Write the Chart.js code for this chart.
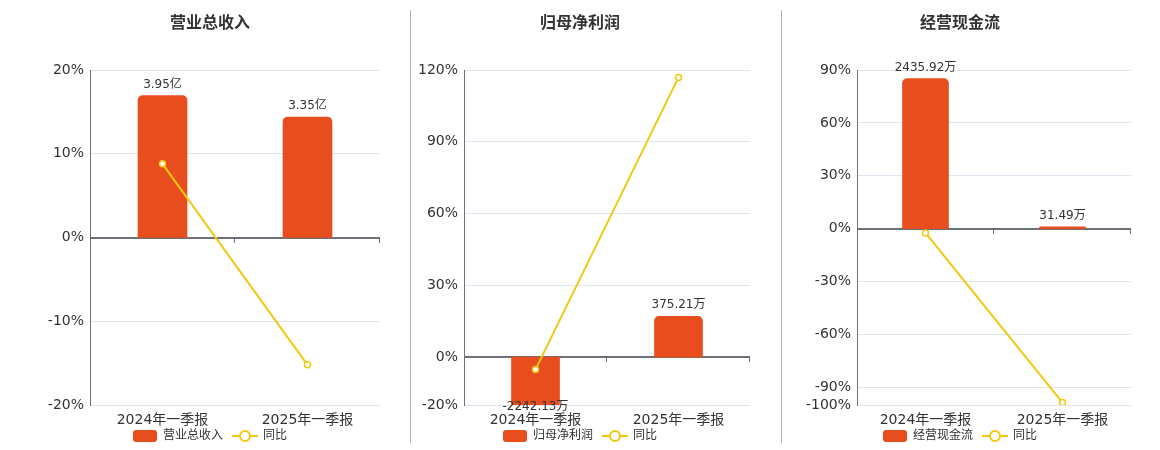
<!DOCTYPE html>
<html>
<head>
<meta charset="utf-8">
<title>季报对比</title>
<script src="https://cdn.jsdelivr.net/npm/chart.js@4.4.0/dist/chart.umd.min.js"></script>
<style>
  body { margin: 0; background: #fff; font-family: "DejaVu Sans", "Noto Sans CJK SC", sans-serif; }
  #wrap { position: relative; width: 1160px; height: 450px; overflow: hidden; }
  .panel { position: absolute; top: 0; height: 450px; }
  .title { position: absolute; top: 13px; width: 200px; height: 20px; line-height: 20px;
           font-size: 16px; font-weight: bold; color: #333; text-align: center; }
  .sep { position: absolute; top: 10px; width: 1px; height: 433px; background: #b4b4b4; }
</style>
</head>
<body>
<div id="wrap">
  <div class="panel" style="left:0;width:420px"><canvas id="c1"></canvas></div>
  <div class="panel" style="left:410px;width:340px"><canvas id="c2"></canvas></div>
  <div class="panel" style="left:760px;width:400px"><canvas id="c3"></canvas></div>
  <div class="title" style="left:110px">营业总收入</div>
  <div class="title" style="left:480px">归母净利润</div>
  <div class="title" style="left:860px">经营现金流</div>
  <div class="sep" style="left:410px"></div>
  <div class="sep" style="left:781px"></div>
</div>
<script>
// periods shown on every panel
const periods = ['2024年一季报', '2025年一季报'];

// 营业总收入 (亿) and its yoy %
const revenueValues = [3.95, 3.35];
const revenueYoy = [8.8, -15.2];
const revenueTicks = [-20, -10, 0, 10, 20];

// 归母净利润 (万) and its yoy %
const profitValues = [-2242.13, 375.21];
const profitYoy = [-5.2, 116.9];
const profitTicks = [-20, 0, 30, 60, 90, 120];

// 经营现金流 (万) and its yoy %
const cashValues = [2435.92, 31.49];
const cashYoy = [-2.4, -98.6];
const cashTicks = [-100, -90, -60, -30, 0, 30, 60, 90];

const BAR = '#E84D1E';
const LINE = '#F2C811';
const AXIS = '#6E7079';
const GRID = '#E0E6F1';
const FONT = '"DejaVu Sans", "Noto Sans CJK SC", sans-serif';

Chart.defaults.font.family = FONT;
Chart.defaults.color = '#333';

// legend icons
function barIcon() {
  const c = document.createElement('canvas');
  c.width = 24; c.height = 12;
  const g = c.getContext('2d');
  g.fillStyle = BAR;
  g.beginPath(); g.roundRect(0, 0, 24, 12, 3); g.fill();
  return c;
}
function lineIcon() {
  const c = document.createElement('canvas');
  c.width = 26; c.height = 14;
  const g = c.getContext('2d');
  g.strokeStyle = LINE; g.lineWidth = 2;
  g.beginPath(); g.moveTo(0, 7); g.lineTo(26, 7); g.stroke();
  g.fillStyle = '#fff';
  g.beginPath(); g.arc(13, 7, 5, 0, Math.PI * 2); g.fill(); g.stroke();
  return c;
}

// little ticks hanging from the zero line at category boundaries
const zeroTicks = {
  id: 'zeroTicks',
  afterDatasetsDraw(chart) {
    const xs = chart.scales.x, ys = chart.scales.y;
    const y0 = Math.round(ys.getPixelForValue(0));
    const n = chart.data.labels.length;
    const ctx = chart.ctx;
    ctx.save();
    ctx.strokeStyle = AXIS; ctx.lineWidth = 1;
    for (let i = 1; i <= n; i++) {
      const px = Math.round(xs.left + i * xs.width / n) - 0.5;
      ctx.beginPath(); ctx.moveTo(px, y0); ctx.lineTo(px, y0 + 5); ctx.stroke();
    }
    ctx.restore();
  }
};

// let the x labels and the legend sit tight together like the original
const tightBottom = {
  id: 'tightBottom',
  afterLayout(chart) {
    const xs = chart.scales.x;
    xs.bottom = xs.top + 26;
    chart.legend.top += 2;
    chart.legend.bottom += 2;
  }
};

function makePanel(id, name, values, unit, yoy, ticks, opt) {
  const valueLabels = {
    id: 'valueLabels',
    afterDatasetsDraw(chart) {
      const meta = chart.getDatasetMeta(0);
      const area = chart.chartArea;
      const ctx = chart.ctx;
      ctx.save();
      ctx.font = '12px ' + FONT;
      ctx.fillStyle = '#333';
      ctx.textAlign = 'center';
      ctx.textBaseline = 'middle';
      meta.data.forEach((bar, i) => {
        const v = values[i];
        let y;
        if (v >= 0) y = Math.max(bar.y, area.top) - 11;
        else y = Math.min(bar.y, area.bottom) + 2;
        ctx.fillText(v.toFixed(2) + unit, bar.x, y);
      });
      ctx.restore();
    }
  };

  const icons = [barIcon(), lineIcon()];

  new Chart(document.getElementById(id), {
    data: {
      labels: periods,
      datasets: [
        {
          type: 'bar', label: name, data: values, yAxisID: 'y1', order: 1,
          backgroundColor: BAR, borderRadius: 5, barThickness: opt.barThickness
        },
        {
          type: 'line', label: '同比', data: yoy, yAxisID: 'y', order: 0,
          borderColor: LINE, borderWidth: 2, tension: 0,
          pointRadius: 3, pointBorderWidth: 1.5,
          pointBackgroundColor: '#fff', pointBorderColor: LINE
        }
      ]
    },
    options: {
      responsive: true,
      maintainAspectRatio: false,
      animation: false,
      layout: { autoPadding: false, padding: { top: 70, left: 0, right: 0, bottom: 0 } },
      plugins: {
        tooltip: { enabled: false },
        legend: {
          position: 'bottom',
          labels: {
            usePointStyle: true, pointStyleWidth: 24, boxHeight: 12,
            padding: 10, color: '#333', font: { size: 12 },
            generateLabels(chart) {
              const items = Chart.defaults.plugins.legend.labels.generateLabels(chart);
              items.sort((a, b) => a.datasetIndex - b.datasetIndex);
              items.forEach(it => { it.pointStyle = icons[it.datasetIndex]; });
              return items;
            }
          }
        }
      },
      scales: {
        x: {
          grid: { display: false, drawTicks: false },
          border: { display: false },
          ticks: { font: { size: 14 }, color: '#333', padding: 7 },
          afterFit(s) { s.height = 13; }
        },
        y: {
          position: 'left',
          min: ticks[0], max: ticks[ticks.length - 1],
          afterBuildTicks(s) { s.ticks = ticks.map(v => ({ value: v })); },
          ticks: {
            autoSkip: false, padding: 6, font: { size: 14 }, color: '#333',
            callback: v => v + '%'
          },
          grid: {
            drawTicks: false,
            color: c => c.tick.value === 0 ? AXIS : GRID,
            lineWidth: c => c.tick.value === 0 ? 2 : 1
          },
          border: { display: true, color: AXIS, width: 1 },
          afterFit(s) { s.width = opt.yWidth; }
        },
        y1: {
          position: 'right',
          display: opt.y1Width > 0,
          min: opt.barMin, max: opt.barMax,
          ticks: { display: false },
          grid: { display: false, drawTicks: false },
          border: { display: false },
          afterFit(s) { s.width = opt.y1Width; }
        }
      }
    },
    plugins: [zeroTicks, valueLabels, tightBottom]
  });
}

makePanel('c1', '营业总收入', revenueValues, '亿', revenueYoy, revenueTicks,
  { yWidth: 90, y1Width: 40, barMin: -4.66, barMax: 4.66, barThickness: 49 });
makePanel('c2', '归母净利润', profitValues, '万', profitYoy, profitTicks,
  { yWidth: 54, y1Width: 0, barMin: -440, barMax: 2640, barThickness: 48 });
makePanel('c3', '经营现金流', cashValues, '万', cashYoy, cashTicks,
  { yWidth: 97, y1Width: 29, barMin: -2864, barMax: 2577, barThickness: 46 });
</script>
</body>
</html>
